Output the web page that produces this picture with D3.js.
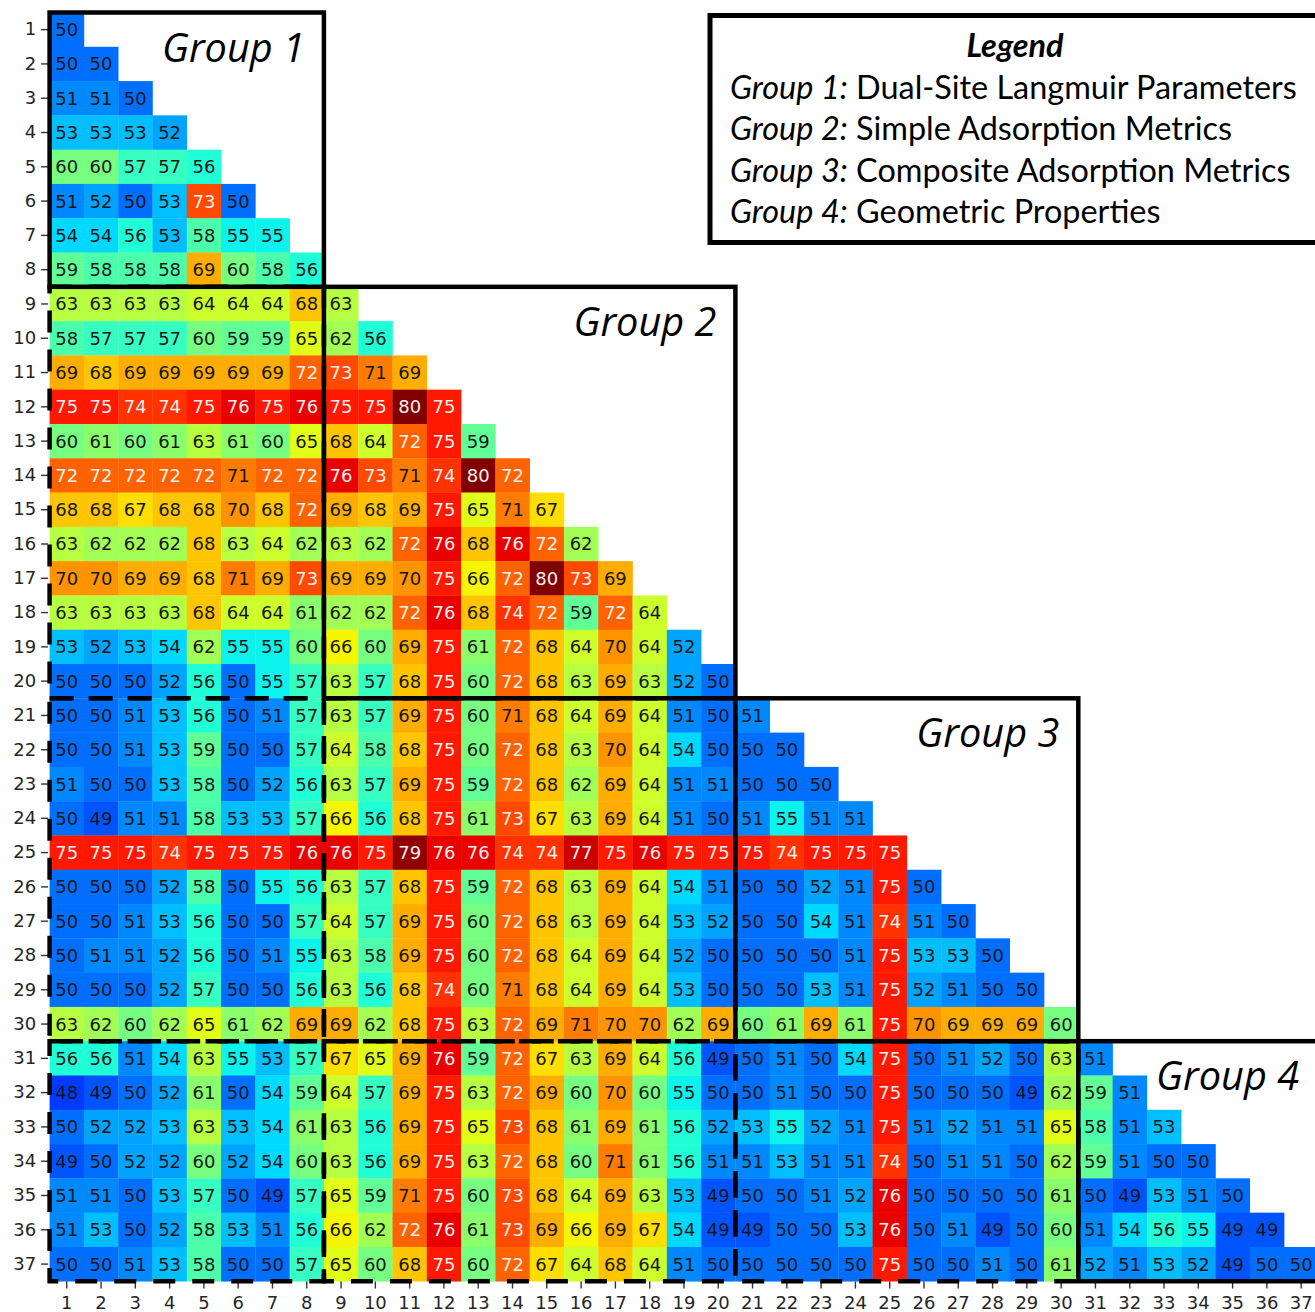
<!DOCTYPE html>
<html>
<head>
<meta charset="utf-8">
<script src="https://cdn.jsdelivr.net/npm/d3@7"></script>
<style>
  html, body { margin: 0; padding: 0; background: #fff; }
  svg { display: block; }
</style>
</head>
<body>
<svg id="chart" width="1315" height="1312"></svg>
<script>
// Feature indices shown on both axes
const featureLabels = ["1","2","3","4","5","6","7","8","9","10","11","12","13","14","15","16","17","18","19",
  "20","21","22","23","24","25","26","27","28","29","30","31","32","33","34","35","36","37"];

// Lower-triangular matrix: row i holds the values for columns 1..i
const matrixRows = [
  [50],
  [50,50],
  [51,51,50],
  [53,53,53,52],
  [60,60,57,57,56],
  [51,52,50,53,73,50],
  [54,54,56,53,58,55,55],
  [59,58,58,58,69,60,58,56],
  [63,63,63,63,64,64,64,68,63],
  [58,57,57,57,60,59,59,65,62,56],
  [69,68,69,69,69,69,69,72,73,71,69],
  [75,75,74,74,75,76,75,76,75,75,80,75],
  [60,61,60,61,63,61,60,65,68,64,72,75,59],
  [72,72,72,72,72,71,72,72,76,73,71,74,80,72],
  [68,68,67,68,68,70,68,72,69,68,69,75,65,71,67],
  [63,62,62,62,68,63,64,62,63,62,72,76,68,76,72,62],
  [70,70,69,69,68,71,69,73,69,69,70,75,66,72,80,73,69],
  [63,63,63,63,68,64,64,61,62,62,72,76,68,74,72,59,72,64],
  [53,52,53,54,62,55,55,60,66,60,69,75,61,72,68,64,70,64,52],
  [50,50,50,52,56,50,55,57,63,57,68,75,60,72,68,63,69,63,52,50],
  [50,50,51,53,56,50,51,57,63,57,69,75,60,71,68,64,69,64,51,50,51],
  [50,50,51,53,59,50,50,57,64,58,68,75,60,72,68,63,70,64,54,50,50,50],
  [51,50,50,53,58,50,52,56,63,57,69,75,59,72,68,62,69,64,51,51,50,50,50],
  [50,49,51,51,58,53,53,57,66,56,68,75,61,73,67,63,69,64,51,50,51,55,51,51],
  [75,75,75,74,75,75,75,76,76,75,79,76,76,74,74,77,75,76,75,75,75,74,75,75,75],
  [50,50,50,52,58,50,55,56,63,57,68,75,59,72,68,63,69,64,54,51,50,50,52,51,75,50],
  [50,50,51,53,56,50,50,57,64,57,69,75,60,72,68,63,69,64,53,52,50,50,54,51,74,51,50],
  [50,51,51,52,56,50,51,55,63,58,69,75,60,72,68,64,69,64,52,50,50,50,50,51,75,53,53,50],
  [50,50,50,52,57,50,50,56,63,56,68,74,60,71,68,64,69,64,53,50,50,50,53,51,75,52,51,50,50],
  [63,62,60,62,65,61,62,69,69,62,68,75,63,72,69,71,70,70,62,69,60,61,69,61,75,70,69,69,69,60],
  [56,56,51,54,63,55,53,57,67,65,69,76,59,72,67,63,69,64,56,49,50,51,50,54,75,50,51,52,50,63,51],
  [48,49,50,52,61,50,54,59,64,57,69,75,63,72,69,60,70,60,55,50,50,51,50,50,75,50,50,50,49,62,59,51],
  [50,52,52,53,63,53,54,61,63,56,69,75,65,73,68,61,69,61,56,52,53,55,52,51,75,51,52,51,51,65,58,51,53],
  [49,50,52,52,60,52,54,60,63,56,69,75,63,72,68,60,71,61,56,51,51,53,51,51,74,50,51,51,50,62,59,51,50,50],
  [51,51,50,53,57,50,49,57,65,59,71,75,60,73,68,64,69,63,53,49,50,50,51,52,76,50,50,50,50,61,50,49,53,51,50],
  [51,53,50,52,58,53,51,56,66,62,72,76,61,73,69,66,69,67,54,49,49,50,50,53,76,50,51,49,50,60,51,54,56,55,49,49],
  [50,50,51,53,58,50,50,57,65,60,68,75,60,72,67,64,68,64,51,50,50,50,50,50,75,50,50,51,50,61,52,51,53,52,49,50,50]
];

// Feature groups (first and last feature of each block)
const groupNames  = ["Group 1", "Group 2", "Group 3", "Group 4"];
const groupStarts = ["1", "9", "21", "31"];
const groupEnds   = ["8", "20", "30", "37"];
const groupDescriptions = [
  "Dual-Site Langmuir Parameters",
  "Simple Adsorption Metrics",
  "Composite Adsorption Metrics",
  "Geometric Properties"
];

const svg = d3.select("#chart");
const cellSize = 34.29;
const gridLeft = 49.6, gridTop = 12.5;

const x = d3.scaleBand().domain(featureLabels).range([gridLeft, gridLeft + cellSize * featureLabels.length]).padding(0);
const y = d3.scaleBand().domain(featureLabels).range([gridTop, gridTop + cellSize * featureLabels.length]).padding(0);

// matplotlib-style "jet" colour map
function jet(t) {
  t = Math.max(0, Math.min(1, t));
  const seg = pts => {
    for (let i = 1; i < pts.length; i++) {
      if (t <= pts[i][0]) {
        const [x0, y0] = pts[i - 1], [x1, y1] = pts[i];
        return y0 + (y1 - y0) * (t - x0) / (x1 - x0);
      }
    }
    return pts[pts.length - 1][1];
  };
  const r = seg([[0, 0], [0.35, 0], [0.66, 1], [0.89, 1], [1, 0.5]]);
  const g = seg([[0, 0], [0.125, 0], [0.375, 1], [0.64, 1], [0.91, 0], [1, 0]]);
  const b = seg([[0, 0.5], [0.11, 1], [0.34, 1], [0.65, 0], [1, 0]]);
  return d3.rgb(r * 255, g * 255, b * 255).formatHex();
}
const color = d3.scaleSequential(jet).domain([41, 79.5]).clamp(true);

const cells = [];
matrixRows.forEach((row, i) => row.forEach((v, j) => cells.push({ r: featureLabels[i], c: featureLabels[j], v })));

const heat = svg.append("g");
heat.selectAll("rect")
  .data(cells)
  .join("rect")
  .attr("x", d => x(d.c))
  .attr("y", d => y(d.r))
  .attr("width", x.bandwidth() + 0.3)
  .attr("height", y.bandwidth() + 0.3)
  .attr("fill", d => color(d.v));

heat.selectAll("text")
  .data(cells)
  .join("text")
  .attr("x", d => x(d.c) + x.bandwidth() / 2)
  .attr("y", d => y(d.r) + y.bandwidth() / 2)
  .attr("dy", "0.36em")
  .attr("text-anchor", "middle")
  .style("font-family", "'DejaVu Sans', sans-serif")
  .style("font-size", "18px")
  .attr("fill", d => d.v >= 72 ? "#f6f0f0" : "#161616")
  .text(d => d.v);

// Axes
const axisStyle = g => {
  g.select(".domain").remove();
  g.selectAll(".tick line").attr("stroke", "#333").attr("stroke-width", 1.4);
  g.selectAll(".tick text")
    .attr("fill", "#262626")
    .style("font-family", "'DejaVu Sans', sans-serif")
    .style("font-size", "18px");
};
svg.append("g")
  .attr("transform", `translate(${gridLeft - 1.5},0)`)
  .call(d3.axisLeft(y).tickSize(7).tickPadding(5))
  .call(axisStyle);
svg.append("g")
  .attr("transform", `translate(0,${gridTop + cellSize * featureLabels.length + 0.3})`)
  .call(d3.axisBottom(x).tickSize(7).tickPadding(8))
  .call(axisStyle);

// Block outlines: dashed for cross-group blocks, solid for the diagonal groups
const blockRect = (ci, ri) => ({
  x0: x(groupStarts[ci]), x1: x(groupEnds[ci]) + x.bandwidth(),
  y0: y(groupStarts[ri]), y1: y(groupEnds[ri]) + y.bandwidth()
});
const frames = svg.append("g").attr("fill", "none").attr("stroke", "#000");
const offBlocks = [];
for (let ri = 1; ri < groupNames.length; ri++)
  for (let ci = 0; ci < ri; ci++) offBlocks.push(blockRect(ci, ri));
frames.selectAll("rect.cross")
  .data(offBlocks)
  .join("rect")
  .attr("class", "cross")
  .attr("x", d => d.x0).attr("y", d => d.y0)
  .attr("width", d => d.x1 - d.x0).attr("height", d => d.y1 - d.y0)
  .attr("stroke-width", 4.5)
  .attr("stroke-dasharray", "22,17");

const diagBlocks = groupNames.map((name, k) => Object.assign({ name }, blockRect(k, k)));
frames.selectAll("rect.group")
  .data(diagBlocks)
  .join("rect")
  .attr("class", "group")
  .attr("x", d => d.x0).attr("y", d => d.y0)
  .attr("width", d => d.x1 - d.x0).attr("height", d => d.y1 - d.y0)
  .attr("stroke-width", 4.5);

// Fit a text element to a target width by scaling its font size
function fitWidth(sel, target) {
  const node = sel.node();
  const size = parseFloat(sel.style("font-size"));
  const w = node.getComputedTextLength();
  if (w > 0) sel.style("font-size", (size * target / w) + "px");
}

const groupLabels = svg.append("g").selectAll("text")
  .data(diagBlocks)
  .join("text")
  .attr("x", d => Math.min(d.x1, 1318) - 19)
  .attr("y", d => d.y0 + 49)
  .attr("text-anchor", "end")
  .style("font-family", "'Open Sans', sans-serif")
  .style("font-style", "italic")
  .style("font-size", "38px")
  .attr("fill", "#000")
  .text(d => d.name);
groupLabels.each(function () { fitWidth(d3.select(this), 143); });

// Legend
const legend = svg.append("g");
legend.append("rect")
  .attr("x", 710).attr("y", 15.5)
  .attr("width", 640).attr("height", 227)
  .attr("fill", "#fff").attr("stroke", "#000").attr("stroke-width", 5);

const legendFont = "Lato, 'Open Sans', sans-serif";
const lines = legend.selectAll("text.item")
  .data(groupNames)
  .join("text")
  .attr("class", "item")
  .attr("x", 730)
  .attr("y", (d, i) => 98.5 + i * 41.6)
  .style("font-family", legendFont)
  .style("font-size", "30px")
  .attr("fill", "#000");
lines.append("tspan").style("font-style", "italic").text(d => d + ":");
lines.append("tspan").text((d, i) => " " + groupDescriptions[i]);

// size all legend lines from the first one
const first = lines.filter((d, i) => i === 0);
fitWidth(first, 567);
const legendSize = first.style("font-size");
lines.style("font-size", legendSize);

legend.append("text")
  .attr("x", 1015).attr("y", 57)
  .attr("text-anchor", "middle")
  .style("font-family", legendFont)
  .style("font-weight", "bold")
  .style("font-style", "italic")
  .style("font-size", legendSize)
  .attr("fill", "#000")
  .text("Legend");
</script>
</body>
</html>
